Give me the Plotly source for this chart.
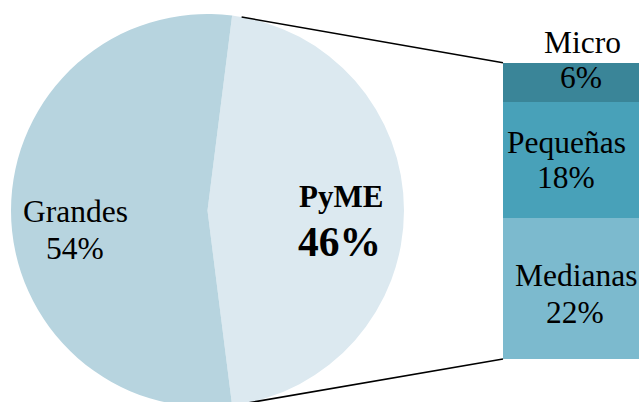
import math
import plotly.graph_objects as go

# ---- data ----
pie_labels = ["PyME", "Grandes"]
pie_values = [46, 54]
pie_colors = ["#dce9f0", "#b7d4df"]

bar_labels = ["Medianas", "Pequeñas", "Micro"]   # bottom -> top
bar_values = [22, 18, 6]
bar_colors = ["#7cbace", "#48a1b9", "#3a8598"]

# ---- geometry (viewport pixels) ----
W, H = 639, 412          # figure a bit taller than the window: pie is cut at the bottom
FONT = "Liberation Serif"
pie_cx, pie_cy, pie_r = 207.5, 210.5, 196.5
bar_x0, bar_top, bar_bot = 503, 62.7, 359.0

def px(x):
    return x / W

def py(y):
    return 1 - y / H

fig = go.Figure()

# start angle so PyME is centred at 3 o'clock (clockwise from 12)
pyme_share = pie_values[0] / sum(pie_values)
rotation = 90 - pyme_share * 360 / 2

fig.add_trace(go.Pie(
    labels=pie_labels, values=pie_values, sort=False, direction="clockwise",
    rotation=rotation, marker=dict(colors=pie_colors, line=dict(width=0)),
    textinfo="none", hoverinfo="label+percent", showlegend=False,
    domain=dict(x=[px(pie_cx - pie_r), px(pie_cx + pie_r)],
                y=[py(pie_cy + pie_r), py(pie_cy - pie_r)]),
))

for lab, val, col in zip(bar_labels, bar_values, bar_colors):
    fig.add_trace(go.Bar(
        x=[0], y=[val], name=lab, marker=dict(color=col, line=dict(width=0)),
        width=1, xaxis="x", yaxis="y", showlegend=False,
    ))

total = sum(bar_values)
fig.update_layout(
    width=W, height=H, margin=dict(l=0, r=0, t=0, b=0),
    paper_bgcolor="white", plot_bgcolor="rgba(0,0,0,0)",
    barmode="stack", bargap=0,
    xaxis=dict(domain=[px(bar_x0), 1], range=[-0.5, 0.5], visible=False),
    yaxis=dict(domain=[py(bar_bot), py(bar_top)], range=[0, total], visible=False),
    font=dict(family=FONT, color="black"),
)

# connector lines from the pie split to the bar corners
theta = math.radians(90 - pyme_share * 180 + 2.8)
tx = pie_cx + pie_r * math.sin(theta)
ty_top = pie_cy - pie_r * math.cos(theta)
ty_bot = pie_cy + pie_r * math.cos(theta)
for (x0, y0, x1, y1) in [(tx, ty_top, bar_x0, bar_top), (tx, ty_bot, bar_x0, bar_bot)]:
    fig.add_shape(type="line", xref="paper", yref="paper",
                  x0=px(x0), y0=py(y0), x1=px(x1), y1=py(y1),
                  line=dict(color="black", width=1.5))

# labels: (text, x centre px, baseline px, size, bold)
labels = [
    ("Grandes", 75.5, 222.3, 31.5, False),
    (f"{pie_values[1]}%", 75, 259.5, 31.5, False),
    ("PyME", 340.5, 207.3, 31, True),
    (f"{pie_values[0]}%", 339.5, 256, 41.5, True),
    ("Micro", 582.5, 52.7, 31.5, False),
    (f"{bar_values[2]}%", 581.3, 88.3, 31.5, False),
    ("Pequeñas", 566.5, 153.3, 31.5, False),
    (f"{bar_values[1]}%", 566.3, 188.3, 31.5, False),
    ("Medianas", 575.8, 286, 31.5, False),
    (f"{bar_values[0]}%", 574.7, 322.7, 31.5, False),
]
for text, x, base, size, bold in labels:
    t = f"<b>{text}</b>" if bold else text
    fig.add_annotation(text=t, xref="paper", yref="paper",
                       x=px(x), y=py(base - 0.3375 * size),
                       xanchor="center", yanchor="middle", showarrow=False,
                       font=dict(family=FONT, size=size, color="black"))

fig.write_html(
    "out.html",
    config={"displayModeBar": False},
    post_script="document.documentElement.style.overflow='hidden';"
                "document.body.style.overflow='hidden';"
                "document.body.style.margin='0';",
)
